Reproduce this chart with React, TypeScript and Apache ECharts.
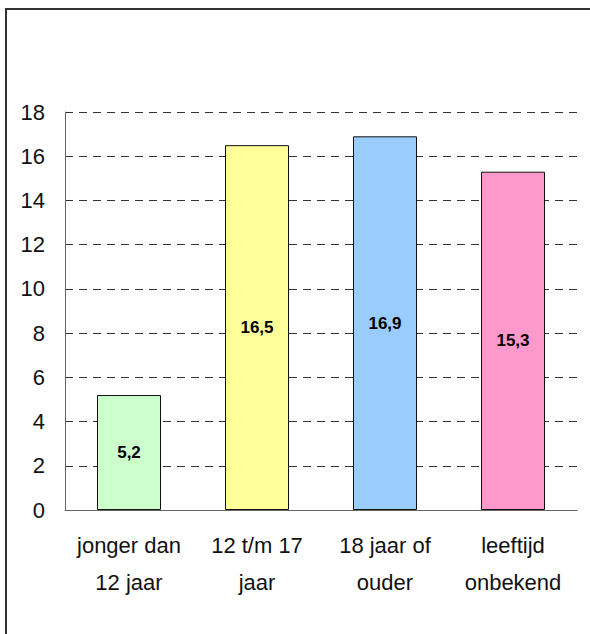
import React, { useEffect, useRef } from "react";
import * as echarts from "echarts";

const categories = ["jonger dan\n12 jaar", "12 t/m 17\njaar", "18 jaar of\nouder", "leeftijd\nonbekend"];
const values = [5.2, 16.5, 16.9, 15.3];
const barColors = ["#CCFFCC", "#FFFF99", "#99CCFF", "#FF99CC"];
const yMin = 0;
const yMax = 18;
const yStep = 2;

export default function App() {
  const ref = useRef<HTMLDivElement>(null);
  useEffect(() => {
    const chart = echarts.init(ref.current!, null, { renderer: "svg" });
    chart.setOption({
      animation: false,
      backgroundColor: "#ffffff",
      textStyle: { fontFamily: "Liberation Sans, Arial, sans-serif" },
      graphic: [
        {
          type: "rect",
          shape: { x: 6, y: 9, width: 620, height: 660 },
          style: { fill: "none", stroke: "#333", lineWidth: 2 },
          silent: true,
        },
      ],
      grid: { left: 65, right: 13, top: 112, bottom: 124, containLabel: false },
      xAxis: {
        type: "category",
        data: categories,
        axisLine: { show: true, lineStyle: { color: "#666", width: 1 } },
        axisTick: { show: false },
        axisLabel: {
          color: "#111",
          fontSize: 22,
          lineHeight: 37,
          margin: 17,
          interval: 0,
          fontFamily: "Liberation Sans, Arial, sans-serif",
        },
      },
      yAxis: {
        type: "value",
        min: yMin,
        max: yMax,
        interval: yStep,
        axisLine: { show: true, lineStyle: { color: "#666", width: 1 } },
        axisTick: { show: false },
        axisLabel: {
          color: "#111",
          fontSize: 22,
          margin: 20,
          fontFamily: "Liberation Sans, Arial, sans-serif",
        },
        splitLine: { show: true, lineStyle: { color: "#333", type: [8, 6], width: 1 } },
      },
      series: [
        {
          type: "bar",
          barWidth: "50%",
          data: values.map((v, i) => ({
            value: v,
            itemStyle: { color: barColors[i], borderColor: "#111", borderWidth: 1 },
          })),
          label: {
            show: true,
            position: "inside",
            color: "#000",
            fontWeight: "bold",
            fontSize: 17,
            fontFamily: "Liberation Sans, Arial, sans-serif",
            formatter: (p: any) => String(p.value).replace(".", ","),
          },
        },
      ],
    });
    return () => chart.dispose();
  }, []);
  return (
    <div
      ref={ref}
      style={{ position: "absolute", left: 0, top: 0, width: 590, height: 634 }}
    />
  );
}
